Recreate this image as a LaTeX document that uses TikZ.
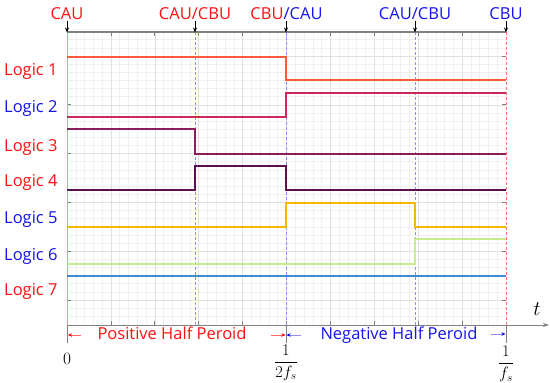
\documentclass[tikz,border=0pt]{standalone}
\usepackage{fontspec}
\setmainfont{Open Sans}
\usetikzlibrary{arrows.meta}
\definecolor{lred}{HTML}{FF1010}
\definecolor{lblue}{HTML}{1414F0}
\definecolor{sigA}{HTML}{FF5A3C}
\definecolor{sigB}{HTML}{C8285A}
\definecolor{sigC}{HTML}{8B1E5A}
\definecolor{sigD}{HTML}{5A0F50}
\definecolor{sigE}{HTML}{F5B800}
\definecolor{sigF}{HTML}{C8EB8C}
\definecolor{sigG}{HTML}{3C8CD2}
\tikzset{
  gridminor/.style={draw=black!6, line width=0.5pt},
  gridmajor/.style={draw=black!12, line width=0.6pt},
  axisline/.style={draw=black!50, line width=1.2pt},
  tickline/.style={draw=black!50, line width=0.7pt},
  bluedash/.style={draw=blue!45, line width=0.9pt, dash pattern=on 3pt off 2pt},
  reddash/.style={draw=red!55, line width=1pt, dash pattern=on 3pt off 2pt},
  sig/.style={line width=1.6pt},
  lbl/.style={anchor=base west, inner sep=0pt, font=\fontsize{16.5}{18}\selectfont},
  toplbl/.style={anchor=base, inner sep=0pt, font=\fontsize{16.5}{18}\selectfont},
  mathlbl/.style={inner sep=0pt, font=\fontsize{17}{19}\selectfont},
  markarrow/.style={draw=black, line width=0.8pt, -{Stealth[length=5pt,width=4pt]}},
  halfarrow/.style={line width=0.8pt, -{Stealth[length=4pt,width=3.5pt]}},
}
\begin{document}
\begin{tikzpicture}[x=1pt,y=-1pt]
\useasboundingbox[fill=white] (0,0) rectangle (550,383);
% grid
\foreach \i in {1,...,49} \draw[gridminor] ({67+\i*43.9/5},32) -- ({67+\i*43.9/5},325);
\foreach \k in {1,...,35} \draw[gridminor] (67,{31.6+\k*8.133}) -- (506,{31.6+\k*8.133});
\foreach \i in {1,...,9} \draw[gridmajor] ({67+\i*43.9},32) -- ({67+\i*43.9},325);
\foreach \k in {0,...,5} \draw[gridmajor] (67,{56+\k*48.8}) -- (506,{56+\k*48.8});
% ticks
\foreach \i in {1,...,9} {
  \draw[tickline] ({67+\i*43.9},32) -- ({67+\i*43.9},36);
  \draw[tickline] ({67+\i*43.9},325) -- ({67+\i*43.9},321);
}
\foreach \k in {0,...,5} {
  \draw[tickline] (67,{56+\k*48.8}) -- (71,{56+\k*48.8});
  \draw[tickline] (506,{56+\k*48.8}) -- (502,{56+\k*48.8});
}
% vertical marker lines
\draw[draw=red!40, line width=1pt] (67,32) -- (67,325);
\draw[bluedash] (195,32) -- (195,325);
\draw[bluedash] (286,32) -- (286,325);
\draw[bluedash] (415,32) -- (415,325);
\draw[reddash] (506,32) -- (506,325);
% axes
\draw[axisline] (67,32) -- (506,32);
\coordinate (axs) at (67,325);
\coordinate (axe) at (549,325);
\draw[axisline, line width=1pt, -{Stealth[length=6pt,width=4pt]}] (axs) -- (axe);
% signals
\draw[sig, sigA] (67,57) -- (286,57) -- (286,80) -- (506,80);
\draw[sig, sigB] (67,117) -- (286,117) -- (286,93) -- (506,93);
\draw[sig, sigC] (67,129) -- (195,129) -- (195,154) -- (506,154);
\draw[sig, sigD] (67,190) -- (195,190) -- (195,166) -- (286,166) -- (286,190) -- (506,190);
\draw[sig, sigE] (67,227) -- (286,227) -- (286,203) -- (415,203) -- (415,227) -- (506,227);
\draw[sig, sigF] (67,264) -- (415,264) -- (415,239) -- (506,239);
\draw[sig, sigG] (67,276) -- (506,276);
% logic labels
\node[lbl, text=lred]  (l1) at (4,75) {Logic 1};
\node[lbl, text=lblue] (l2) at (4,112.5) {Logic 2};
\node[lbl, text=lred]  (l3) at (4,151) {Logic 3};
\node[lbl, text=lred]  (l4) at (4,186) {Logic 4};
\node[lbl, text=lblue] (l5) at (4,223) {Logic 5};
\node[lbl, text=lblue] (l6) at (4,260) {Logic 6};
\node[lbl, text=lred]  (l7) at (4,295) {Logic 7};
% top labels
\node[toplbl, text=lred]  (t1) at (67,19) {CAU};
\node[toplbl, text=lred]  (t2) at (195,19) {CAU/CBU};
\node[toplbl] (t3) at (286.5,19) {\textcolor{lred}{CBU}\textcolor{lblue}{/CAU}};
\node[toplbl, text=lblue] (t4) at (415,19) {CAU/CBU};
\node[toplbl, text=lblue] (t5) at (506,19) {CBU};
% top arrows
\foreach \x/\n in {67/1,195/2,286/3,415/4,506/5} {
  \coordinate (m\n a) at (\x,21);
  \coordinate (m\n b) at (\x,32.5);
  \draw[markarrow] (m\n a) -- (m\n b);
}
% bottom ticks
\foreach \x/\n in {67/1,286/2,506/3} {
  \coordinate (bt\n a) at (\x,325);
  \coordinate (bt\n b) at (\x,343);
  \draw[tickline, line width=0.9pt] (bt\n a) -- (bt\n b);
}
% half period arrows
\coordinate (pa1) at (81,335); \coordinate (pa2) at (68,335);
\coordinate (pb1) at (271,335); \coordinate (pb2) at (285.5,335);
\coordinate (na1) at (301,335); \coordinate (na2) at (286.5,335);
\coordinate (nb1) at (491,334); \coordinate (nb2) at (505.5,334);
\draw[halfarrow, draw=red!60, -{Stealth[length=4pt,width=3.5pt,color=red]}] (pa1) -- (pa2);
\draw[halfarrow, draw=red!60, -{Stealth[length=4pt,width=3.5pt,color=red]}] (pb1) -- (pb2);
\draw[halfarrow, draw=blue!45, -{Stealth[length=4pt,width=3.5pt,color=blue]}] (na1) -- (na2);
\draw[halfarrow, draw=blue!45, -{Stealth[length=4pt,width=3.5pt,color=blue]}] (nb1) -- (nb2);
\node[toplbl, text=lred] (ph) at (172,339) {Positive Half Peroid};
\node[toplbl, text=lblue] (nh) at (399,339) {Negative Half Peroid};
% axis labels
\node[inner sep=0pt, font=\fontsize{20.74}{23}\selectfont] (tt) at (537,309) {$t$};
\node[mathlbl] (z0) at (67,359) {$0$};
\node[mathlbl] (zh) at (286,362.5) {\scalebox{0.95}{$\displaystyle\frac{1}{2f_s}$}};
\node[mathlbl] (zf) at (506,364) {\scalebox{0.95}{$\displaystyle\frac{1}{f_s}$}};
\end{tikzpicture}
\end{document}
